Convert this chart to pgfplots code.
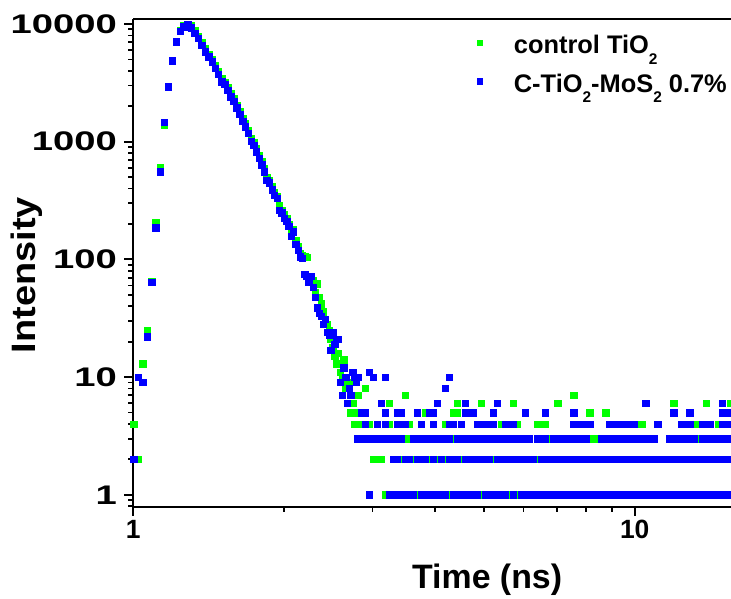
\documentclass[border=0pt]{standalone}
\usepackage{pgfplots}
\pgfplotsset{compat=1.18}
\usepackage{fontspec}
\setmainfont{Liberation Sans}
\definecolor{cgreen}{RGB}{0,255,0}
\definecolor{cblue}{RGB}{0,0,255}
\newcommand{\sub}[1]{\raisebox{-0.42em}{\fontsize{15.5}{18}\selectfont #1}}
\begin{document}
\begin{tikzpicture}
\begin{axis}[
  at={(0,0)}, anchor=south west,
  scale only axis, width=597.7bp, height=487.4bp,
  xmode=log, ymode=log,
  xmin=1, xmax=15.56, ymin=0.792, ymax=10965,
  axis x line*=box, axis y line*=left,
  xtick={1,10}, xticklabels={1,10},
  ytick={1,10,100,1000,10000}, yticklabels={1,10,100,1000,10000},
  minor xtick={2,3,...,9},
  minor ytick={0.8,0.9,2,3,...,9,20,30,...,90,200,300,...,900,2000,3000,...,9000},
  xtick pos=left, ytick pos=left,
  tick align=outside,
  major tick length=9bp, minor tick length=5bp,
  tick style={black, line width=1.8bp},
  axis line style={line width=2bp},
  tick label style={font=\fontsize{26.5}{30}\selectfont\bfseries},
  yticklabel style={font=\fontsize{27}{31}\selectfont\bfseries, inner sep=0pt, xscale=1.42, xshift=-5bp},
  xticklabel style={inner sep=0pt, yshift=-4bp},
  label style={font=\fontsize{34}{40}\selectfont\bfseries},
  xlabel={Time (ns)}, ylabel={Intensity},
  xlabel style={at={(axis description cs:0.592,-0.167)}, anchor=base},
  ylabel style={at={(axis description cs:-0.163,0.475)}, anchor=base, xscale=1.12},
  legend cell align=left,
  legend style={draw=none, fill=none, inner sep=0pt,
    at={(axis description cs:0.5742,0.9733)}, anchor=north west,
    font=\fontsize{25.5}{30}\selectfont\bfseries,
    nodes={inner sep=0pt, text height=21bp, text depth=17.5bp},
    /tikz/every odd column/.append style={column sep=32bp}},
  legend image code/.code={\path[#1, mark size=2.6bp] plot coordinates {(0bp,9bp)};},
]
% control TiO2
\addplot[only marks, mark=square*, mark size=3.2bp, color=cgreen] coordinates {
(1.001,4) (1.022,2) (1.044,13) (1.066,25) (1.088,65) (1.109,206) (1.131,601) (1.153,1387)
(1.174,2950) (1.196,4950) (1.218,7150) (1.240,8800) (1.261,9700) (1.283,9900)
(1.305,9650) (1.326,8750) (1.348,7900) (1.370,7000) (1.391,6150) (1.413,5550) (1.435,5000)
(1.457,4450) (1.478,3950) (1.500,3450) (1.522,3200) (1.543,2900) (1.565,2550) (1.587,2330)
(1.608,2050) (1.630,1800) (1.652,1580) (1.674,1420) (1.695,1240) (1.717,1070)
(1.739,990) (1.760,870) (1.782,760) (1.804,680) (1.825,590) (1.847,500) (1.869,470)
(1.890,415) (1.912,370) (1.934,345) (1.956,285) (1.977,262) (1.999,240) (2.021,222)
(2.043,200) (2.064,172) (2.086,180) (2.108,145) (2.130,128)
(2.151,112) (2.173,108) (2.195,105) (2.217,104) (2.238,70) (2.260,66) (2.282,66) (2.303,52)
(2.325,62) (2.347,48) (2.369,42) (2.390,36) (2.412,30) (2.434,28) (2.456,25) (2.477,21)
(2.499,18) (2.521,15) (2.542,13) (2.564,16) (2.586,11) (2.607,10) (2.629,14) (2.651,8)
(2.673,9) (2.694,9) (2.716,5) (2.738,6) (2.759,4) (2.781,5) (2.803,7) (2.825,4) (2.846,3)
(3.177,1) (3.681,1) (4.266,1) (4.943,1) (5.623,1) (5.834,1) (7.834,1)
(3.006,2) (3.062,2) (3.119,2) (3.420,2) (3.614,2) (3.890,2) (4.036,2) (4.188,2) (4.508,2)
(5.224,2) (6.397,2) (7.691,2) (9.954,2)
(3.483,3) (3.548,3) (4.345,3) (6.761,3) (8.128,3) (8.279,3) (8.433,3) (13.366,3)
(2.793,4) (2.951,4) (3.236,4) (3.548,4) (4.188,4) (5.420,4) (5.834,4) (6.397,4) (6.516,4)
(6.637,4) (10.328,4) (13.122,4) (13.366,4) (14.655,4)
(3.819,5) (4.345,5) (4.426,5) (8.128,5) (8.750,5)
(3.236,6) (4.426,6) (4.943,6) (5.728,6) (7.015,6) (11.967,6) (13.868,6) (15.488,6)
(3.483,7) (7.551,7) (2.897,8)
};
\addlegendentry{control TiO\sub{2}}
% C-TiO2-MoS2 0.7%
\addplot[only marks, mark=square*, mark size=3.2bp, color=cblue] coordinates {
(1.001,2) (1.022,10) (1.044,9) (1.066,22) (1.088,64) (1.109,186) (1.131,556) (1.153,1462)
(1.174,2933) (1.196,4876) (1.218,7080) (1.240,8710) (1.261,9490) (1.283,9940)
(1.305,9300) (1.326,8340) (1.348,7560) (1.370,6640) (1.391,5820) (1.413,5280) (1.435,4780)
(1.457,4200) (1.478,3740) (1.500,3240) (1.522,3090) (1.543,2750) (1.565,2410) (1.587,2220)
(1.608,1945) (1.630,1710) (1.652,1500) (1.674,1342) (1.695,1178) (1.717,1014)
(1.739,937) (1.760,820) (1.782,720) (1.804,640) (1.825,556) (1.847,470) (1.869,449)
(1.890,390) (1.912,350) (1.934,330) (1.956,263) (1.977,249) (1.999,225) (2.021,210)
(2.043,192) (2.064,158) (2.086,172) (2.108,135) (2.130,120)
(2.151,105) (2.173,102) (2.195,75) (2.217,72) (2.238,64) (2.260,72) (2.282,58) (2.303,48)
(2.325,39) (2.347,35) (2.369,33) (2.390,28) (2.412,31) (2.434,24) (2.456,23) (2.477,17)
(2.499,24) (2.521,19) (2.542,21) (2.564,21) (2.586,9) (2.607,7) (2.629,12) (2.651,10)
(2.673,6) (2.694,8) (2.716,7) (2.738,11) (2.759,10) (2.781,9) (2.803,10)
(2.951,11) (3.006,10) (3.177,10) (4.266,10) (4.188,8)
(3.119,6) (4.036,6) (4.592,6) (5.321,6) (10.520,6) (14.928,6)
(2.844,5) (2.897,5) (3.177,5) (3.357,5) (3.420,5) (3.681,5) (3.890,5) (3.963,5) (4.592,5)
(4.677,5) (4.764,5) (5.224,5) (6.053,5) (6.637,5) (7.551,5) (11.967,5) (12.882,5) (14.928,5)
(15.205,5) (15.488,5)
(2.897,4) (3.062,4) (3.177,4) (3.357,4) (3.420,4) (3.483,4) (3.750,4) (3.963,4) (4.266,4)
(4.345,4) (4.508,4) (4.853,4) (4.943,4) (5.035,4) (5.129,4) (5.224,4) (5.521,4) (5.623,4)
(5.728,4) (7.551,4) (7.691,4) (7.834,4) (7.980,4) (8.128,4) (8.913,4) (9.078,4) (9.247,4)
(9.419,4) (9.594,4) (9.772,4) (9.954,4) (11.117,4) (12.417,4) (12.647,4) (12.882,4)
(13.614,4) (13.868,4) (14.125,4) (14.928,4) (15.205,4) (15.488,4)
(2.793,3) (2.844,3) (2.897,3) (2.951,3) (3.006,3) (3.062,3) (3.119,3) (3.177,3) (3.236,3)
(3.296,3) (3.357,3) (3.420,3) (3.614,3) (3.681,3) (3.750,3) (3.819,3) (3.890,3) (3.963,3)
(4.036,3) (4.111,3) (4.188,3) (4.266,3) (4.426,3) (4.508,3) (4.592,3) (4.677,3) (4.764,3)
(4.853,3) (4.943,3) (5.035,3) (5.129,3) (5.224,3) (5.321,3) (5.420,3) (5.521,3) (5.623,3)
(5.728,3) (5.834,3) (5.943,3) (6.053,3) (6.166,3) (6.397,3) (6.516,3) (6.637,3) (6.887,3)
(7.015,3) (7.145,3) (7.278,3) (7.413,3) (7.551,3) (7.691,3) (7.834,3) (7.980,3) (8.590,3)
(8.750,3) (8.913,3) (9.078,3) (9.247,3) (9.419,3) (9.594,3) (9.772,3) (9.954,3) (10.139,3)
(10.520,3) (10.715,3) (10.914,3) (11.749,3) (11.967,3) (12.190,3) (12.417,3) (12.647,3)
(12.882,3) (13.122,3) (13.614,3) (13.868,3) (14.125,3) (14.388,3) (14.655,3) (14.928,3)
(15.205,3) (15.488,3)
(3.296,2) (3.357,2) (3.483,2) (3.548,2) (3.681,2) (3.750,2) (3.819,2) (3.963,2) (4.111,2)
(4.266,2) (4.345,2) (4.426,2) (4.592,2) (4.677,2) (4.764,2) (4.853,2) (4.943,2) (5.035,2)
(5.129,2) (5.321,2) (5.420,2) (5.521,2) (5.623,2) (5.728,2) (5.834,2) (5.943,2) (6.053,2)
(6.166,2) (6.281,2) (6.516,2) (6.637,2) (6.761,2) (6.887,2) (7.015,2) (7.145,2) (7.278,2)
(7.413,2) (7.551,2) (7.834,2) (7.980,2) (8.128,2) (8.279,2) (8.433,2) (8.590,2) (8.750,2)
(8.913,2) (9.078,2) (9.247,2) (9.419,2) (9.594,2) (9.772,2) (10.139,2) (10.328,2) (10.520,2)
(10.715,2) (10.914,2) (11.117,2) (11.324,2) (11.535,2) (11.749,2) (11.967,2) (12.190,2)
(12.417,2) (12.647,2) (12.882,2) (13.122,2) (13.366,2) (13.614,2) (13.868,2) (14.125,2)
(14.388,2) (14.655,2) (14.928,2) (15.205,2) (15.488,2)
(2.951,1) (3.236,1) (3.296,1) (3.357,1) (3.420,1) (3.483,1) (3.548,1) (3.614,1) (3.750,1)
(3.819,1) (3.890,1) (3.963,1) (4.036,1) (4.111,1) (4.188,1) (4.345,1) (4.426,1) (4.508,1)
(4.592,1) (4.677,1) (4.764,1) (4.853,1) (5.035,1) (5.129,1) (5.224,1) (5.321,1) (5.420,1)
(5.521,1) (5.728,1) (5.943,1) (6.053,1) (6.166,1) (6.281,1) (6.397,1) (6.516,1) (6.637,1)
(6.761,1) (6.887,1) (7.015,1) (7.145,1) (7.278,1) (7.413,1) (7.551,1) (7.691,1) (7.980,1)
(8.128,1) (8.279,1) (8.433,1) (8.590,1) (8.750,1) (8.913,1) (9.078,1) (9.247,1) (9.419,1)
(9.594,1) (9.772,1) (9.954,1) (10.139,1) (10.328,1) (10.520,1) (10.715,1) (10.914,1)
(11.117,1) (11.324,1) (11.535,1) (11.749,1) (11.967,1) (12.190,1) (12.417,1) (12.647,1)
(12.882,1) (13.122,1) (13.366,1) (13.614,1) (13.868,1) (14.125,1) (14.388,1) (14.655,1)
(14.928,1) (15.205,1) (15.488,1)
};
\addlegendentry{C-TiO\sub{2}-MoS\sub{2} 0.7\%}
\end{axis}
\pgfresetboundingbox
\useasboundingbox (-133.3bp,-92.3bp) rectangle (597.7bp,506.7bp);
\end{tikzpicture}
\end{document}
